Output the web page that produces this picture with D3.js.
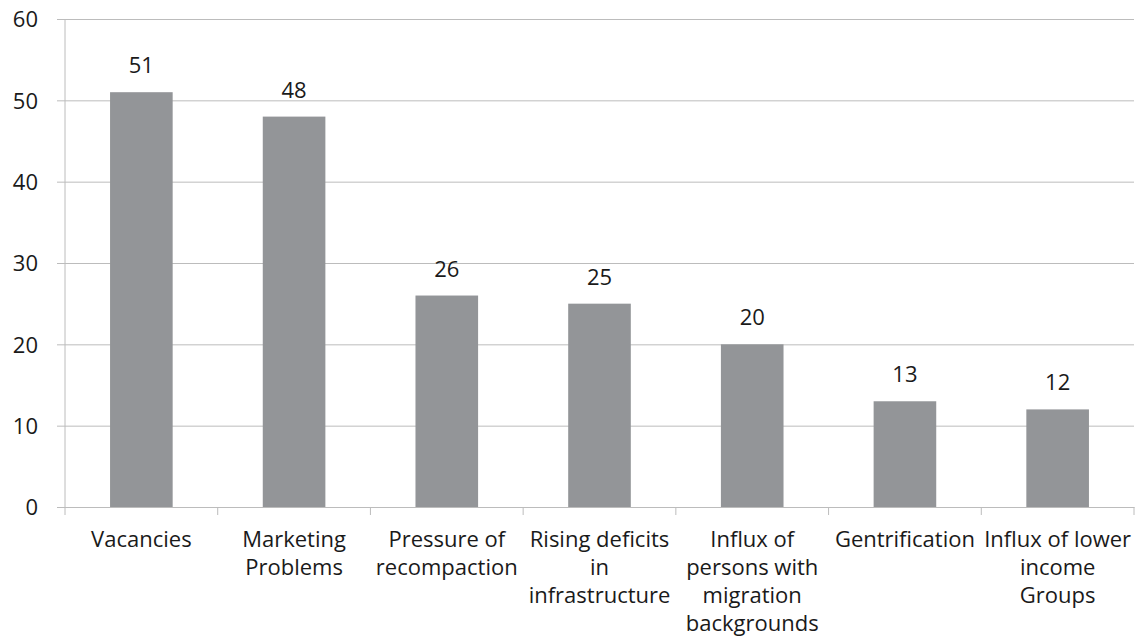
<!DOCTYPE html>
<html>
<head>
<meta charset="utf-8">
<script src="https://cdn.jsdelivr.net/npm/d3@7"></script>
<style>
  body { margin: 0; background: #fff; }
  text { font-family: "Open Sans", Lato, sans-serif; fill: #1a1a1a; }
</style>
</head>
<body>
<div id="chart"></div>
<script>
const categories = [
  "Vacancies",
  "Marketing Problems",
  "Pressure of recompaction",
  "Rising deficits in infrastructure",
  "Influx of persons with migration backgrounds",
  "Gentrification",
  "Influx of lower income Groups",
]
const values = [51, 48, 26, 25, 20, 13, 12]
const tickLabels = [
  ["Vacancies"],
  ["Marketing", "Problems"],
  ["Pressure of", "recompaction"],
  ["Rising deficits", "in", "infrastructure"],
  ["Influx of", "persons with", "migration", "backgrounds"],
  ["Gentrification"],
  ["Influx of lower", "income", "Groups"],
]
const yTicks = [0, 10, 20, 30, 40, 50, 60]

function draw() {
  const dimensions = {
    width: 1135,
    height: 644,
    margin: { top: 19, left: 65, bottom: 137, right: 1 },
  }
  dimensions.ctrWidth = dimensions.width - dimensions.margin.left - dimensions.margin.right
  dimensions.ctrHeight = dimensions.height - dimensions.margin.top - dimensions.margin.bottom

  const xScale = d3.scaleBand()
    .domain(categories)
    .range([0, dimensions.ctrWidth])
    .padding(0)

  const yScale = d3.scaleLinear()
    .domain([0, 60])
    .range([dimensions.ctrHeight, 0])

  const svg = d3.select("#chart")
    .append("svg")
    .attr("width", dimensions.width)
    .attr("height", dimensions.height)

  const ctr = svg.append("g")
    .attr("transform", `translate(${dimensions.margin.left}, ${dimensions.margin.top})`)

  // gridlines + y labels
  const yAxis = d3.axisLeft(yScale)
    .tickValues(yTicks)
    .tickSize(-dimensions.ctrWidth)
    .tickPadding(0)

  const yAxisGroup = ctr.append("g").call(yAxis)
  yAxisGroup.select(".domain").remove()
  yAxisGroup.selectAll(".tick line")
    .attr("x1", -8)
    .attr("stroke", "#bcbcbc")
    .attr("stroke-width", 1)
  yAxisGroup.selectAll(".tick text")
    .attr("x", -27)
    .attr("dy", "0.35em")
    .style("font-size", "22px")
    .style("font-family", "'Open Sans', sans-serif")
    .attr("fill", "#1a1a1a")

  // y axis line
  ctr.append("line")
    .attr("x1", 0).attr("x2", 0)
    .attr("y1", 0).attr("y2", dimensions.ctrHeight)
    .attr("stroke", "#bcbcbc")

  // bars
  const barWidth = xScale.bandwidth() * 0.41
  ctr.selectAll("rect.bar")
    .data(values)
    .join("rect")
    .attr("class", "bar")
    .attr("x", (d, i) => xScale(categories[i]) + (xScale.bandwidth() - barWidth) / 2)
    .attr("y", d => yScale(d))
    .attr("width", barWidth)
    .attr("height", d => dimensions.ctrHeight - yScale(d))
    .attr("fill", "#939598")

  // value labels
  ctr.selectAll("text.value")
    .data(values)
    .join("text")
    .attr("class", "value")
    .attr("x", (d, i) => xScale(categories[i]) + xScale.bandwidth() / 2)
    .attr("y", d => yScale(d) - 19)
    .attr("text-anchor", "middle")
    .style("font-size", "22px")
    .text(d => d)

  // x axis
  const xAxis = d3.axisBottom(xScale).tickSize(0).tickFormat("")
  const xAxisGroup = ctr.append("g")
    .attr("transform", `translate(0, ${dimensions.ctrHeight})`)
    .call(xAxis)
  xAxisGroup.select(".domain").attr("stroke", "#bcbcbc")

  // tick marks at band boundaries
  const bounds = categories.map(c => xScale(c)).concat([dimensions.ctrWidth])
  xAxisGroup.selectAll("line.sep")
    .data(bounds)
    .join("line")
    .attr("class", "sep")
    .attr("x1", d => d).attr("x2", d => d)
    .attr("y1", 0).attr("y2", 8)
    .attr("stroke", "#bcbcbc")

  // category labels
  xAxisGroup.selectAll("text.cat")
    .data(tickLabels)
    .join("text")
    .attr("class", "cat")
    .attr("text-anchor", "middle")
    .style("font-size", "22px")
    .attr("transform", (d, i) => `translate(${xScale(categories[i]) + xScale.bandwidth() / 2}, 40)`)
    .selectAll("tspan")
    .data(d => d)
    .join("tspan")
    .attr("x", 0)
    .attr("y", (d, j) => j * 28)
    .text(d => d)
}

draw()
</script>
</body>
</html>
